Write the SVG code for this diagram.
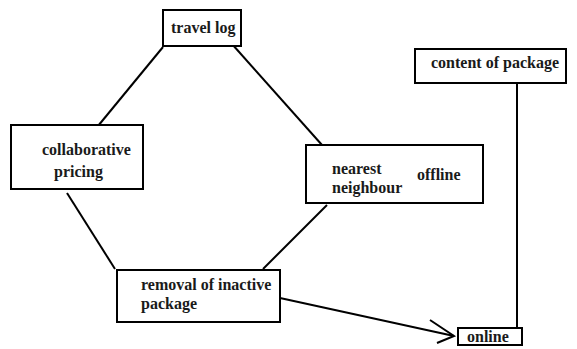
<svg xmlns="http://www.w3.org/2000/svg" width="577" height="349" viewBox="0 0 577 349">
<style>
.box{fill:#fff;stroke:#000;stroke-width:2}
.t{font-family:'Liberation Serif','Times New Roman',serif;font-weight:bold;font-size:16px;fill:#1a1a1a}
.c{stroke:#000;stroke-width:2;fill:none}
</style>
<rect width="577" height="349" fill="#fff"/>
<g id="connectors">
<line class="c" x1="163" y1="47" x2="98" y2="126"/>
<line class="c" x1="232" y1="44" x2="322" y2="145"/>
<line class="c" x1="67" y1="193" x2="115" y2="269"/>
<line class="c" x1="327" y1="205" x2="263" y2="269"/>
<line class="c" x1="280" y1="298" x2="454" y2="336"/>
<polyline class="c" points="430,320 454,336 437,343"/>
<line class="c" x1="517" y1="84" x2="517" y2="328"/>
</g>
<g id="travel-log">
<rect class="box" x="163" y="10" width="78" height="36"/>
<text class="t" x="171" y="33">travel log</text>
</g>
<g id="collaborative-pricing">
<rect class="box" x="11" y="125" width="132" height="64"/>
<text class="t" x="42" y="155">collaborative</text>
<text class="t" x="54" y="177">pricing</text>
</g>
<g id="nearest-neighbour">
<rect class="box" x="306" y="145" width="177" height="58"/>
<text class="t" x="332" y="174">nearest</text>
<text class="t" x="332" y="193">neighbour</text>
<text class="t" x="417" y="180">offline</text>
</g>
<g id="removal">
<rect class="box" x="117" y="270" width="163" height="52"/>
<text class="t" x="141" y="290">removal of inactive</text>
<text class="t" x="141" y="309">package</text>
</g>
<g id="content-of-package">
<rect class="box" x="415" y="49" width="151" height="34"/>
<text class="t" x="431" y="68">content of package</text>
</g>
<g id="online">
<rect class="box" x="458" y="328" width="64" height="17"/>
<text class="t" x="467" y="342">online</text>
</g>
</svg>
